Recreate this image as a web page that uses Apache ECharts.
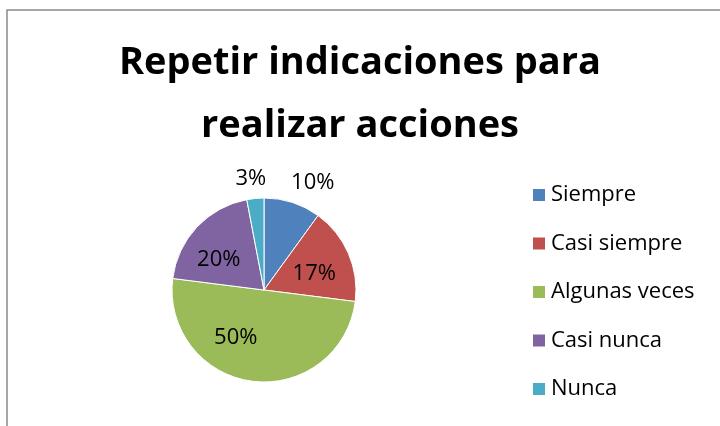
<!DOCTYPE html>
<html>
<head>
<meta charset="utf-8">
<script src="https://cdn.jsdelivr.net/npm/echarts@6/dist/echarts.min.js"></script>
<style>
    html, body { margin: 0; padding: 0; background: #fff; }
    #chart { width: 720px; height: 426px; }
</style>
</head>
<body>
<div id="chart"></div>
<script>
// datos del grafico
var categorias = ['Siempre', 'Casi siempre', 'Algunas veces', 'Casi nunca', 'Nunca'];
var valores = [10, 17, 50, 20, 3];
var colores = ['#4F81BD', '#C0504D', '#9BBB59', '#8064A2', '#4BACC6'];
// etiquetas que van fuera del circulo
var fuera = ['Siempre', 'Nunca'];

// pequeno desplazamiento de cada etiqueta
var ajuste = {
    'Siempre': [12, 6],
    'Casi siempre': [-3, 7],
    'Algunas veces': [-21, -10],
    'Casi nunca': [-3, 9],
    'Nunca': [-2, 7]
};

var fuente = '"Open Sans", "Noto Sans", sans-serif';
var centro = [264, 290];

function datos(mostrar) {
    return categorias.map(function (c, i) {
        return {
            name: c,
            value: valores[i],
            label: { show: mostrar(c), offset: ajuste[c] }
        };
    });
}

var myChart = echarts.init(document.getElementById('chart'));
var option = {
    animation: false,
    color: colores,
    graphic: [{
        type: 'rect',
        shape: { x: 7, y: 10, width: 900, height: 600 },
        style: { fill: 'none', stroke: '#8a8a8a', lineWidth: 1.5 },
        silent: true
    }],
    title: {
        text: 'Repetir indicaciones para\nrealizar acciones',
        left: 'center',
        top: 27,
        textStyle: {
            fontFamily: fuente,
            fontWeight: 'bold',
            fontSize: 38,
            lineHeight: 63,
            color: '#000'
        }
    },
    legend: {
        orient: 'vertical',
        left: 531,
        top: 184,
        padding: 0,
        itemWidth: 14,
        itemHeight: 14,
        itemGap: 26.5,
        icon: 'rect',
        data: categorias,
        textStyle: {
            fontFamily: fuente,
            fontSize: 22,
            lineHeight: 22,
            color: '#000'
        }
    },
    series: [
        {
            // sectores visibles
            name: 'pie',
            type: 'pie',
            center: centro,
            radius: 92,
            clockwise: true,
            startAngle: 90,
            silent: true,
            itemStyle: { borderColor: '#fff', borderWidth: 1 },
            label: { show: false },
            labelLine: { show: false },
            data: datos(function () { return false; })
        },
        {
            // etiquetas interiores
            name: 'dentro',
            type: 'pie',
            center: centro,
            radius: 110,
            startAngle: 90,
            silent: true,
            itemStyle: { color: 'rgba(0,0,0,0)' },
            label: {
                position: 'inside',
                formatter: '{c}%',
                fontFamily: fuente,
                fontSize: 22,
                color: '#000'
            },
            labelLine: { show: false },
            data: datos(function (c) { return fuera.indexOf(c) < 0; })
        },
        {
            // etiquetas exteriores
            name: 'fuera',
            type: 'pie',
            center: centro,
            radius: 232,
            startAngle: 90,
            silent: true,
            itemStyle: { color: 'rgba(0,0,0,0)' },
            label: {
                position: 'inside',
                formatter: '{c}%',
                fontFamily: fuente,
                fontSize: 22,
                color: '#000'
            },
            labelLine: { show: false },
            data: datos(function (c) { return fuera.indexOf(c) >= 0; })
        }
    ]
};
myChart.setOption(option);
</script>
</body>
</html>
